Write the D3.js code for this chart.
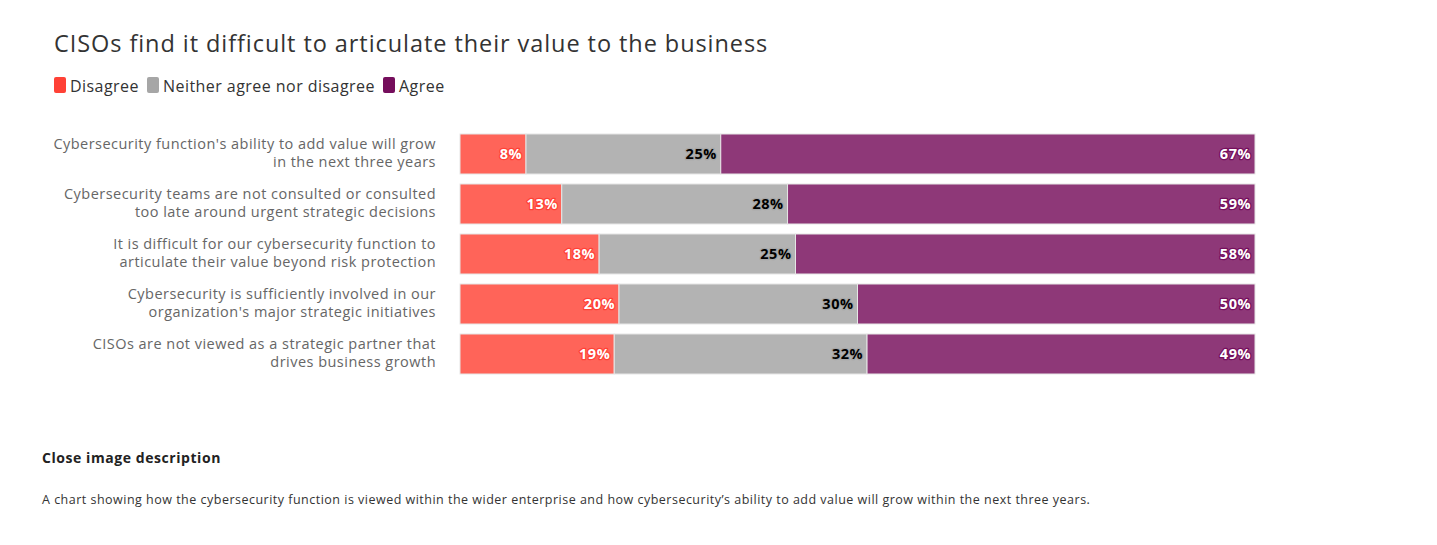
<!DOCTYPE html>
<html>
<head>
<meta charset="utf-8">
<script src="https://cdn.jsdelivr.net/npm/d3@7"></script>
<style>
  body { margin: 0; background: #fff; font-family: "Open Sans", "Noto Sans", sans-serif; }
  svg text { font-family: "Open Sans", "Noto Sans", sans-serif; }
</style>
</head>
<body>
<svg id="chart" width="1437" height="545"></svg>
<script>
// statements, top to bottom
var categories = [
  ["Cybersecurity function's ability to add value will grow", "in the next three years"],
  ["Cybersecurity teams are not consulted or consulted", "too late around urgent strategic decisions"],
  ["It is difficult for our cybersecurity function to", "articulate their value beyond risk protection"],
  ["Cybersecurity is sufficiently involved in our", "organization's major strategic initiatives"],
  ["CISOs are not viewed as a strategic partner that", "drives business growth"]
];

var seriesNames = ["Disagree", "Neither agree nor disagree", "Agree"];

// shares (labels show them rounded)
var disagree = [8.3, 12.8, 17.5, 20, 19.4];
var neither = [24.5, 28.4, 24.7, 30, 31.8];
var agree = [67.2, 58.8, 57.8, 50, 48.8];

var legendColors = ["#FF4136", "#A6A6A6", "#750E5C"];
var barColors = ["#FF6459", "#B3B3B3", "#8E3878"];
var labelFill = ["#FFFFFF", "#000000", "#FFFFFF"];

var svg = d3.select("#chart");

// title
svg.append("text")
  .attr("x", 54)
  .attr("y", 52)
  .attr("fill", "#333")
  .attr("font-size", 23.5)
  .attr("letter-spacing", 0.93)
  .text("CISOs find it difficult to articulate their value to the business");

// legend
var legendX = [54, 147, 383];
seriesNames.forEach(function (name, i) {
  svg.append("rect")
    .attr("x", legendX[i])
    .attr("y", 77)
    .attr("width", 12)
    .attr("height", 16)
    .attr("rx", 2)
    .attr("fill", legendColors[i]);
  svg.append("text")
    .attr("x", legendX[i] + 16)
    .attr("y", 92)
    .attr("fill", "#333")
    .attr("font-size", 16)
    .attr("letter-spacing", 0.45)
    .text(name);
});

// stack the three series per row
var rows = categories.map(function (c, i) {
  return { idx: i, vals: [disagree[i], neither[i], agree[i]] };
});

var x = d3.scaleLinear().domain([0, 100]).range([460, 1255]);
var y = d3.scaleBand()
  .domain(d3.range(categories.length))
  .range([129, 379])
  .paddingInner(0.2)
  .paddingOuter(0.1);

var g = svg.append("g");

rows.forEach(function (row) {
  var total = d3.sum(row.vals);
  var acc = 0;
  row.vals.forEach(function (v, s) {
    var x0 = x(acc / total * 100);
    acc += v;
    var x1 = x(acc / total * 100);
    g.append("rect")
      .attr("x", x0)
      .attr("y", y(row.idx))
      .attr("width", x1 - x0)
      .attr("height", y.bandwidth())
      .attr("fill", barColors[s])
      .attr("stroke", "#E6E6E6")
      .attr("stroke-width", 1);

    // data label with outline
    g.append("text")
      .attr("x", x1 - 4)
      .attr("y", y(row.idx) + y.bandwidth() / 2 + 5)
      .attr("text-anchor", "end")
      .attr("font-size", 14.5)
      .attr("font-weight", "bold")
      .attr("letter-spacing", 0.5)
      .attr("fill", labelFill[s])
      .attr("stroke", legendColors[s])
      .attr("stroke-width", 2.5)
      .attr("stroke-linejoin", "round")
      .attr("paint-order", "stroke")
      .text(Math.round(v) + "%");
  });

  // category label, two lines
  var t = svg.append("text")
    .attr("text-anchor", "end")
    .attr("fill", "#666")
    .attr("font-size", 14.5)
    .attr("letter-spacing", 0.47);
  categories[row.idx].forEach(function (line, k) {
    t.append("tspan")
      .attr("x", 436)
      .attr("y", y(row.idx) + y.bandwidth() / 2 - 5 + k * 18)
      .text(line);
  });
});

// description block
svg.append("text")
  .attr("x", 42)
  .attr("y", 463)
  .attr("fill", "#222")
  .attr("font-size", 14)
  .attr("font-weight", "bold")
  .attr("letter-spacing", 0.56)
  .text("Close image description");

svg.append("text")
  .attr("x", 42)
  .attr("y", 504)
  .attr("fill", "#333")
  .attr("font-size", 12.5)
  .attr("letter-spacing", 0.49)
  .text("A chart showing how the cybersecurity function is viewed within the wider enterprise and how cybersecurity\u2019s ability to add value will grow within the next three years.");
</script>
</body>
</html>
